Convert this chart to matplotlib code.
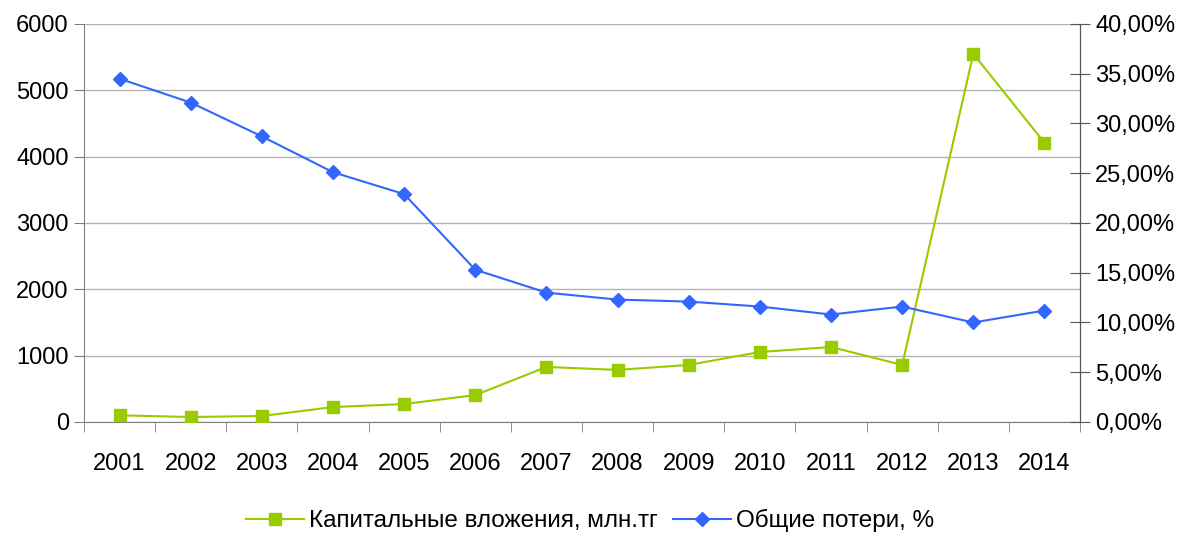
import numpy as np
import matplotlib.pyplot as plt

plt.rcParams['font.family'] = ['Liberation Sans', 'DejaVu Sans']

# data
years = ['2001', '2002', '2003', '2004', '2005', '2006', '2007',
         '2008', '2009', '2010', '2011', '2012', '2013', '2014']
capital = [100, 75, 90, 225, 270, 405, 830, 785, 860, 1055, 1130, 860, 5550, 4210]
losses = [34.5, 32.1, 28.7, 25.1, 22.9, 15.3, 13.0, 12.3, 12.1, 11.6, 10.8, 11.6, 10.0, 11.2]

green = '#99cc00'
blue = '#3366ff'
grid_c = '#b3b3b3'
axis_c = '#808080'

fig = plt.figure(figsize=(11.87, 5.33), dpi=100)
ax = fig.add_axes([0.0708, 0.2083, 0.8391, 0.7467])
ax2 = ax.twinx()

x = np.arange(len(years))

l1, = ax.plot(x, capital, color=green, lw=1.5, marker='s', ms=9,
              label='Капитальные вложения, млн.тг', zorder=3)
l2, = ax2.plot(x, losses, color=blue, lw=1.5, marker='D', ms=7.5,
               label='Общие потери, %', zorder=3)

ax.set_xlim(-0.5, len(years) - 0.5)
ax.set_ylim(0, 6000)
ax.set_yticks(range(0, 6001, 1000))
ax2.set_ylim(0, 40)
ax2.set_yticks(range(0, 41, 5))
ax2.set_yticklabels(['%d,00%%' % v for v in range(0, 41, 5)])

ax.set_xticks(x)
ax.set_xticklabels(years)
ax.set_xticks(np.arange(-0.5, len(years), 1), minor=True)
ax.tick_params(axis='x', which='major', length=0, pad=22, labelsize=17)
ax.tick_params(axis='x', which='minor', length=7, color=axis_c, direction='out')
ax.tick_params(axis='y', length=7, color=axis_c, labelsize=17, pad=4)
ax2.tick_params(axis='y', length=14, direction='inout', color='#555555', labelsize=17, pad=4)

ax.yaxis.grid(True, color=grid_c, lw=1)
ax.set_axisbelow(True)

for a in (ax, ax2):
    a.spines['top'].set_visible(False)
    a.spines['left'].set_color(axis_c)
    a.spines['bottom'].set_color(axis_c)
    a.spines['right'].set_color('#555555')
ax2.spines['left'].set_visible(False)
ax2.spines['bottom'].set_visible(False)

fig.legend(handles=[l1, l2], loc='lower center', bbox_to_anchor=(0.497, -0.04),
           ncol=2, frameon=False, fontsize=17.5, handlelength=2.4,
           handletextpad=0.2, columnspacing=0.6)

fig.savefig('out.png', dpi=100)
